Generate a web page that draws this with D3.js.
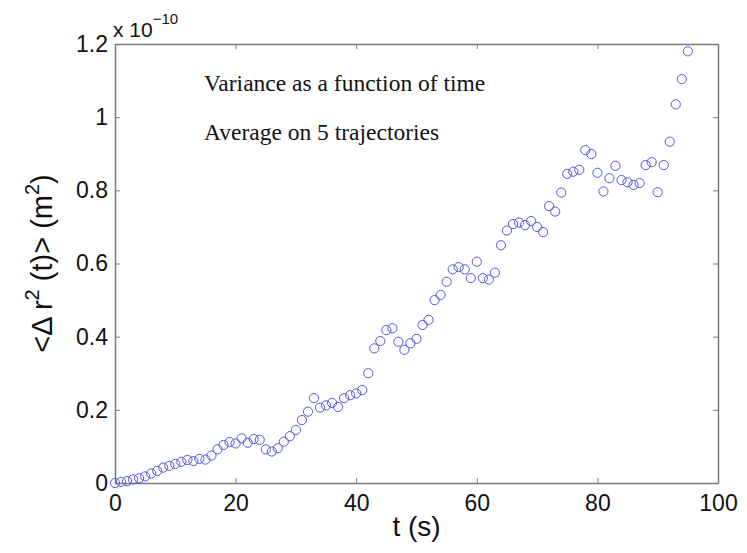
<!DOCTYPE html>
<html lang="en">
<head>
<meta charset="UTF-8">
<title>Variance as a function of time</title>
<script src="https://d3js.org/d3.v7.min.js"></script>
<style>
  body { margin: 0; background: #fff; }
  text { font-family: "Liberation Sans", Arial, sans-serif; }
</style>
</head>
<body>
<svg id="chart" width="747" height="553"></svg>
<script>
// time (s) and mean square displacement (x 1e-10 m^2)
const times = [
  0, 1, 2, 3, 4, 5, 6, 7, 8, 9,
  10, 11, 12, 13, 14, 15, 16, 17, 18, 19,
  20, 21, 22, 23, 24, 25, 26, 27, 28, 29,
  30, 31, 32, 33, 34, 35, 36, 37, 38, 39,
  40, 41, 42, 43, 44, 45, 46, 47, 48, 49,
  50, 51, 52, 53, 54, 55, 56, 57, 58, 59,
  60, 61, 62, 63, 64, 65, 66, 67, 68, 69,
  70, 71, 72, 73, 74, 75, 76, 77, 78, 79,
  80, 81, 82, 83, 84, 85, 86, 87, 88, 89,
  90, 91, 92, 93, 94, 95
];
const msd = [
  0.000, 0.003, 0.005, 0.010, 0.013, 0.018, 0.026, 0.033, 0.042, 0.047,
  0.052, 0.058, 0.063, 0.060, 0.066, 0.064, 0.075, 0.092, 0.104, 0.112,
  0.108, 0.122, 0.110, 0.120, 0.118, 0.092, 0.086, 0.095, 0.113, 0.128,
  0.145, 0.172, 0.195, 0.232, 0.206, 0.212, 0.219, 0.208, 0.232, 0.240,
  0.245, 0.254, 0.300, 0.368, 0.388, 0.418, 0.423, 0.386, 0.364, 0.382,
  0.394, 0.432, 0.446, 0.500, 0.514, 0.550, 0.584, 0.590, 0.584, 0.560,
  0.605, 0.560, 0.556, 0.575, 0.650, 0.690, 0.708, 0.712, 0.705, 0.716,
  0.700, 0.686, 0.757, 0.742, 0.794, 0.845, 0.851, 0.856, 0.910, 0.899,
  0.848, 0.797, 0.833, 0.867, 0.828, 0.822, 0.815, 0.820, 0.869, 0.877,
  0.795, 0.869, 0.933, 1.035, 1.104, 1.180
];
const xTicks = [0, 20, 40, 60, 80, 100];
const yTicks = [0, 0.2, 0.4, 0.6, 0.8, 1, 1.2];
const notes = ["Variance as a function of time", "Average on 5 trajectories"];

const svg = d3.select("#chart");
const margin = {top: 44, right: 29, bottom: 70, left: 115};
const width = 747 - margin.left - margin.right;
const height = 553 - margin.top - margin.bottom;

const x = d3.scaleLinear().domain([0, 100]).range([0, width]);
const y = d3.scaleLinear().domain([0, 1.2]).range([height, 0]);

const g = svg.append("g")
    .attr("transform", `translate(${margin.left},${margin.top})`);

const axisColor = "#7a7a7a";
const fmt = d => d === 0 ? "0" : (d === 1 ? "1" : d3.format(".1f")(d));

// bottom / left with labels, top / right ticks only (inward ticks)
const xb = g.append("g").attr("transform", `translate(0,${height})`)
    .call(d3.axisBottom(x).tickValues(xTicks).tickSizeInner(-5).tickSizeOuter(0).tickPadding(12));
const yl = g.append("g")
    .call(d3.axisLeft(y).tickValues(yTicks).tickFormat(fmt).tickSizeInner(-5).tickSizeOuter(0).tickPadding(7));
const xt = g.append("g")
    .call(d3.axisTop(x).tickValues(xTicks).tickSizeInner(-5).tickSizeOuter(0).tickFormat(""));
const yr = g.append("g").attr("transform", `translate(${width},0)`)
    .call(d3.axisRight(y).tickValues(yTicks).tickSizeInner(-5).tickSizeOuter(0).tickFormat(""));

[xb, yl, xt, yr].forEach(a => {
  a.select(".domain").attr("stroke", axisColor).attr("stroke-width", 1.5);
  a.selectAll(".tick line").attr("stroke", axisColor);
  a.selectAll(".tick text")
      .attr("fill", "#111")
      .style("font-size", "23px")
      .style("font-family", "Liberation Sans, Arial, sans-serif");
});

// exponent note
const expo = svg.append("text")
    .attr("x", margin.left - 2)
    .attr("y", 37)
    .attr("fill", "#111")
    .style("font-size", "21px");
expo.append("tspan").text("x 10");
expo.append("tspan").attr("dy", -13).style("font-size", "15px").text("\u221210");

// data points
g.append("g")
  .selectAll("circle")
  .data(times.map((t, i) => ({t: t, v: msd[i]})))
  .join("circle")
    .attr("cx", d => x(d.t))
    .attr("cy", d => y(d.v))
    .attr("r", 4.6)
    .attr("fill", "none")
    .attr("stroke", "#5555e6")
    .attr("stroke-width", 1);

// annotations
g.selectAll(".note")
  .data(notes)
  .join("text")
    .attr("class", "note")
    .attr("x", 89)
    .attr("y", (d, i) => 47 + i * 49)
    .style("font-family", "Liberation Serif, Times New Roman, serif")
    .style("font-size", "23.5px")
    .attr("fill", "#111")
    .text(d => d);

// axis titles
svg.append("text")
    .attr("x", margin.left + width / 2)
    .attr("y", 536)
    .attr("text-anchor", "middle")
    .attr("fill", "#111")
    .style("font-size", "28px")
    .text("t (s)");

const yt = svg.append("text")
    .attr("transform", `translate(52,${margin.top + height / 2}) rotate(-90)`)
    .attr("text-anchor", "middle")
    .attr("fill", "#111")
    .style("font-size", "29px");
yt.append("tspan").text("<\u0394 r");
yt.append("tspan").attr("dy", -13).style("font-size", "20px").text("2");
yt.append("tspan").attr("dy", 13).text(" (t)> (m");
yt.append("tspan").attr("dy", -13).style("font-size", "20px").text("2");
yt.append("tspan").attr("dy", 13).text(")");
</script>
</body>
</html>
